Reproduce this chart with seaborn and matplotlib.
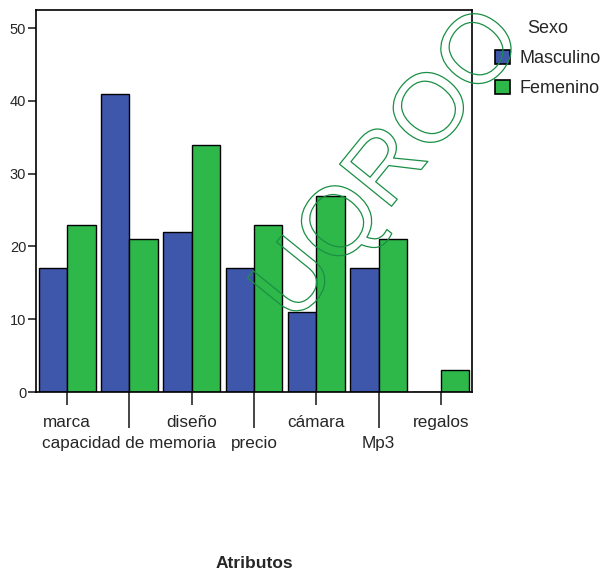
import pandas as pd
import matplotlib.pyplot as plt
import matplotlib.patheffects as pe
import seaborn as sns

# datos
atributos = ["marca", "capacidad de memoria", "diseño", "precio", "cámara", "Mp3", "regalos"]
masculino = [17, 41, 22, 17, 11, 17, 0]
femenino = [23, 21, 34, 23, 27, 21, 3]

df = pd.DataFrame({
    "Atributos": atributos * 2,
    "Sexo": ["Masculino"] * len(atributos) + ["Femenino"] * len(atributos),
    "n": masculino + femenino,
})

sns.set_style("white")
plt.rcParams["font.family"] = ["Liberation Sans", "DejaVu Sans"]

fig = plt.figure(figsize=(6.07, 5.73), dpi=100)
ax = fig.add_axes([36 / 607, 1 - 392 / 573, 436 / 607, 382 / 573])

sns.barplot(data=df, x="Atributos", y="n", hue="Sexo", order=atributos,
            hue_order=["Masculino", "Femenino"],
            palette=["#3e57ab", "#2fb84a"], saturation=1, width=0.915,
            edgecolor="black", linewidth=1, ax=ax, legend=True)

ax.set_ylim(0, 52.5)
ax.set_xlim(-0.5, 6.5)
ax.set_yticks(range(0, 51, 10))
ax.set_ylabel("")
ax.tick_params(axis="y", direction="out", length=6, width=1.2, labelsize=10.5, pad=1, left=True)
for s in ax.spines.values():
    s.set_color("black")
    s.set_linewidth(1.2)

# etiquetas alternadas: pares cortas arriba, impares largas abajo
ax.set_xticks([0, 2, 4, 6])
ax.set_xticklabels([atributos[i] for i in [0, 2, 4, 6]])
ax.set_xticks([1, 3, 5], minor=True)
ax.set_xticklabels([atributos[i] for i in [1, 3, 5]], minor=True)
ax.tick_params(axis="x", which="major", direction="out", length=9, width=1.2,
               labelsize=12.3, pad=7.5, bottom=True)
ax.tick_params(axis="x", which="minor", direction="out", length=26, width=1.2,
               labelsize=12.3, pad=5.5, bottom=True)

ax.set_xlabel("Atributos", fontsize=12.5, fontweight="bold")
ax.xaxis.set_label_coords(0.5, -0.43)

leg = ax.legend(title="Sexo", loc="upper left", bbox_to_anchor=(0.800, 0.981),
                bbox_transform=fig.transFigure, frameon=False, fontsize=13,
                title_fontsize=13, handlelength=0.85, handleheight=0.85,
                handletextpad=0.5, labelspacing=0.7, borderpad=0)
for h in leg.legend_handles:
    h.set_edgecolor("black")
    h.set_linewidth(1.2)

# marca de agua
fig.text(0.644, 0.708, "UQROO", fontsize=70, rotation=51, ha="center", va="center",
         color=(0, 0, 0, 0),
         path_effects=[pe.Stroke(linewidth=0.9, foreground="#1a8f45")])

plt.savefig("out.png", dpi=100)
